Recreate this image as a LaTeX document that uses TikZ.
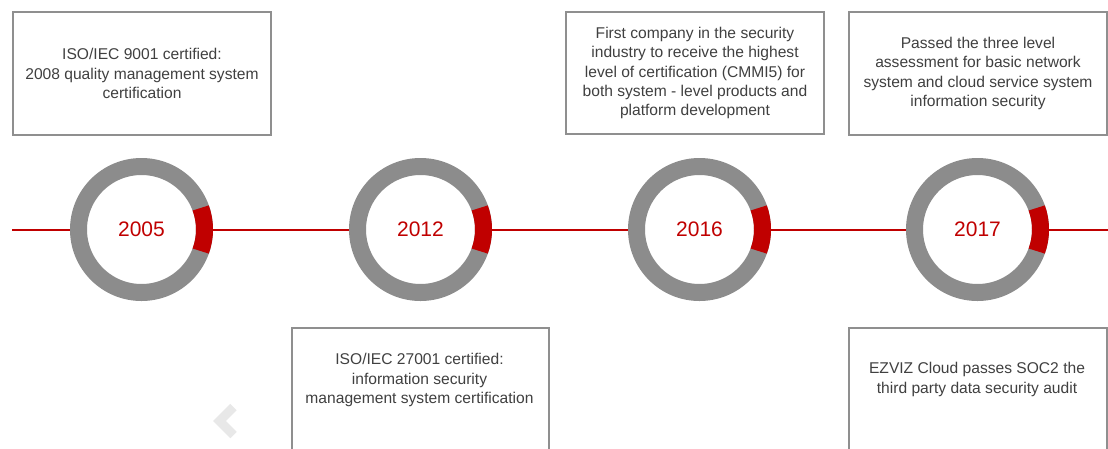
\documentclass[tikz,border=0pt]{standalone}
\usepackage{fontspec}
\setmainfont{Liberation Sans}
\usetikzlibrary{calc}
\definecolor{ringgray}{HTML}{8C8C8C}
\definecolor{boxgray}{HTML}{8F8F8F}
\definecolor{accred}{HTML}{C00000}
\definecolor{txtgray}{HTML}{404040}
\definecolor{chev}{HTML}{E8E8E8}
\tikzset{
  infobox/.style={draw=boxgray, line width=2pt, rectangle, inner sep=0pt, fill=white},
  infotext/.style={text=txtgray, align=center, font=\fontsize{15.6}{19.3}\selectfont, inner sep=0pt},
  ring/.style={circle, draw=ringgray, line width=17pt, minimum size=126pt, inner sep=0pt, outer sep=8.5pt,
    text=accred, font=\fontsize{21}{24}\selectfont},
  redline/.style={draw=accred, line width=2pt},
  redseg/.style={draw=accred, line width=17pt},
}
\begin{document}
\begin{tikzpicture}[x=1pt,y=-1pt]
\clip (0,0) rectangle (1108,448);
\fill[white] (0,0) rectangle (1108,448);
% timeline ends
\coordinate (lstart) at (12,229.5);
\coordinate (lend) at (1108,229.5);
% rings
\node[ring] (r2005) at (141.5,229.5) {2005};
\node[ring] (r2012) at (420.5,229.5) {2012};
\node[ring] (r2016) at (699.5,229.5) {2016};
\node[ring] (r2017) at (977.5,229.5) {2017};
\foreach \r in {r2005,r2012,r2016,r2017}{
  \draw[redseg] ([shift={(-20:63pt)}]\r.center) arc[start angle=-20, end angle=20, radius=63pt];
}
% connectors
\draw[redline] (lstart) -- (r2005);
\draw[redline] (r2005) -- (r2012);
\draw[redline] (r2012) -- (r2016);
\draw[redline] (r2016) -- (r2017);
\draw[redline] (r2017.east) -- (lend);
% boxes
\node[infobox, minimum width=258pt, minimum height=123pt, anchor=north west] (b2005) at (12,11) {};
\node[infotext] (t2005) at (b2005.center) {ISO/IEC 9001 certified:\\2008 quality management system\\certification};
\node[infobox, minimum width=257pt, minimum height=150pt, anchor=north west] (b2012) at (291,327) {};
\node[infotext] (t2012) at (419.5,380) {ISO/IEC 27001 certified:\\information security\\management system certification};
\node[infobox, minimum width=258pt, minimum height=122pt, anchor=north west] (b2016) at (565,11) {};
\node[infotext] (t2016) at (b2016.center) {First company in the security\\industry to receive the highest\\level of certification (CMMI5) for\\both system - level products and\\platform development};
\node[infobox, minimum width=258pt, minimum height=123pt, anchor=north west] (b2017a) at (848,11) {};
\node[infotext] (t2017a) at (b2017a.center) {Passed the three level\\assessment for basic network\\system and cloud service system\\information security};
\node[infobox, minimum width=258pt, minimum height=150pt, anchor=north west] (b2017b) at (848,327) {};
\node[infotext] (t2017b) at (977,379.5) {EZVIZ Cloud passes SOC2 the\\third party data security audit};
% chevron
\draw[chev, line width=9pt, line join=miter, line cap=butt] (233.5,407) -- (219.5,421) -- (233.5,435);
\end{tikzpicture}
\end{document}
